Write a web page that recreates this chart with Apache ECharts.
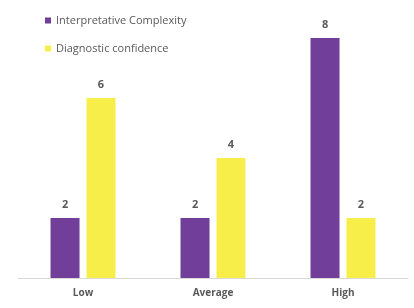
<!DOCTYPE html>
<html>
<head>
<meta charset="utf-8">
<script src="https://cdn.jsdelivr.net/npm/echarts@6/dist/echarts.min.js"></script>
<style>
  html, body { margin: 0; padding: 0; background: #fff; }
  #chart { width: 414px; height: 308px; }
</style>
</head>
<body>
<div id="chart"></div>
<script>
// categories and values
const categories = ['Low', 'Average', 'High'];
const complexity = [2, 2, 8];
const confidence = [6, 4, 2];

const chart = echarts.init(document.getElementById('chart'));

const labelStyle = {
  show: true,
  position: 'top',
  color: '#595959',
  fontWeight: 'bold',
  fontSize: 11,
  fontFamily: 'Open Sans',
  distance: 8
};

chart.setOption({
  animation: false,
  legend: {
    orient: 'vertical',
    left: 40,
    top: 10,
    itemWidth: 6,
    itemHeight: 6,
    itemGap: 17,
    icon: 'rect',
    textStyle: { color: '#595959', fontSize: 11, fontFamily: 'Open Sans' },
    data: ['Interpretative Complexity', 'Diagnostic confidence']
  },
  grid: { left: 18, right: 6, top: 38, bottom: 30 },
  xAxis: {
    type: 'category',
    data: categories,
    axisLine: { lineStyle: { color: '#d9d9d9' } },
    axisTick: { show: false },
    axisLabel: { color: '#595959', fontSize: 10, fontWeight: 'bold', fontFamily: 'Open Sans', margin: 10 }
  },
  yAxis: {
    type: 'value',
    min: 0,
    max: 8,
    show: false
  },
  series: [
    {
      name: 'Interpretative Complexity',
      type: 'bar',
      data: complexity,
      barWidth: 29,
      barGap: '24%',
      itemStyle: { color: '#713f99' },
      label: labelStyle
    },
    {
      name: 'Diagnostic confidence',
      type: 'bar',
      data: confidence,
      barWidth: 29,
      itemStyle: { color: '#f8ee4a' },
      label: labelStyle
    }
  ]
});
</script>
</body>
</html>
